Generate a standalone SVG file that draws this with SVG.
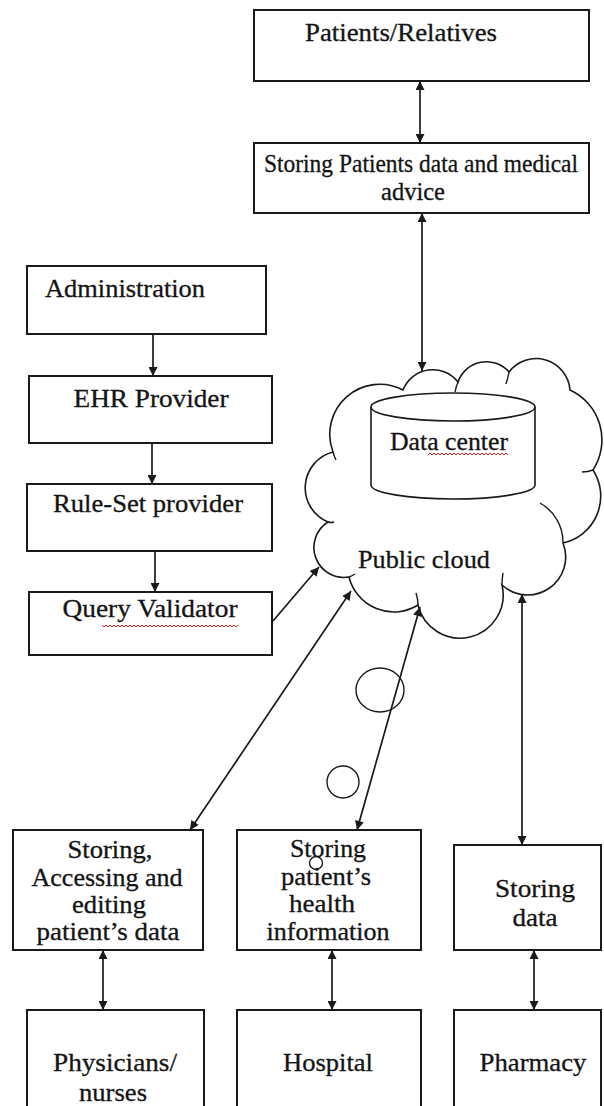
<svg xmlns="http://www.w3.org/2000/svg" width="604" height="1106" viewBox="0 0 604 1106">
  <style>
    .box { fill: #fff; stroke: #1a1a1a; stroke-width: 2; }
    .lbl { font-family: "Liberation Serif", "Times New Roman", serif; font-size: 25px; fill: #141414; stroke: #141414; stroke-width: 0.3; }
    .mid { text-anchor: middle; }
    .link { fill: none; stroke: #1a1a1a; stroke-width: 1.7; }
    .one { marker-end: url(#head); }
    .two { marker-start: url(#head); marker-end: url(#head); }
    .outline { fill: #fff; stroke: #1a1a1a; stroke-width: 1.6; }
    .thin { fill: none; stroke: #1a1a1a; stroke-width: 1.4; }
  </style>
  <defs>
    <marker id="head" viewBox="0 0 10 10" refX="10" refY="5" markerWidth="10" markerHeight="9" markerUnits="userSpaceOnUse" orient="auto-start-reverse">
      <path d="M0,0 L10,5 L0,10 z" fill="#1a1a1a"/>
    </marker>
    <pattern id="wavy" x="0" y="0" width="4" height="4" patternUnits="userSpaceOnUse">
      <path d="M0 3 L2 1 L4 3" fill="none" stroke="#d42020" stroke-width="1"/>
    </pattern>
  </defs>
  <rect width="604" height="1106" fill="#fff"/>

  <!-- cloud with data center -->
  <g id="public-cloud">
    <path class="outline" d="M403 390 A32 32 0 0 1 458 382 A30 30 0 0 1 509 372 A34 34 0 0 1 570 390 A55 55 0 0 1 593 470 A48 48 0 0 1 563 543 A38 38 0 0 1 502 585 A43 43 0 0 1 418 605 A46 46 0 0 1 349 577 A30 30 0 0 1 328 522 A37 37 0 0 1 333 452 A50 50 0 0 1 403 390 Z"/>
    <path class="thin" d="M540 503 A45 45 0 0 1 563 543 M458 382 Q456 387 455 392 M509 372 Q508 378 506 384 M593 470 Q588 472 582 472 M502 585 Q502 579 503 573 M418 605 Q418 599 416 593 M333 452 Q334 456 336 460 M328 522 Q331 523 334 522 M349 577 Q352 576 355 574"/>
    <text class="lbl mid" x="424" y="568" textLength="132" lengthAdjust="spacingAndGlyphs">Public cloud</text>
  </g>
  <g id="data-center">
    <path class="outline" d="M371 407 L371 485 A82 14 0 0 0 535 485 L535 407"/>
    <ellipse class="outline" cx="453" cy="407" rx="82" ry="14"/>
    <text class="lbl mid" x="449" y="450" textLength="118" lengthAdjust="spacingAndGlyphs">Data center</text>
    <rect x="428" y="452" width="80" height="4" fill="url(#wavy)"/>
  </g>

  <!-- top chain -->
  <g id="patients-relatives">
    <rect class="box" x="254" y="10" width="335" height="71"/>
    <text class="lbl mid" x="401" y="41" textLength="192" lengthAdjust="spacingAndGlyphs">Patients/Relatives</text>
  </g>
  <g id="storing-patients-data">
    <rect class="box" x="254" y="143" width="335" height="70"/>
    <text class="lbl mid" x="421" y="172" textLength="314" lengthAdjust="spacingAndGlyphs">Storing Patients data and medical</text>
    <text class="lbl mid" x="413" y="200" textLength="64" lengthAdjust="spacingAndGlyphs">advice</text>
  </g>

  <!-- left chain -->
  <g id="administration">
    <rect class="box" x="27" y="266" width="239" height="68"/>
    <text class="lbl" x="45" y="297" textLength="160" lengthAdjust="spacingAndGlyphs">Administration</text>
  </g>
  <g id="ehr-provider">
    <rect class="box" x="29" y="376" width="243" height="67"/>
    <text class="lbl mid" x="151" y="407" textLength="155" lengthAdjust="spacingAndGlyphs">EHR Provider</text>
  </g>
  <g id="rule-set-provider">
    <rect class="box" x="27" y="484" width="245" height="67"/>
    <text class="lbl mid" x="148" y="512" textLength="190" lengthAdjust="spacingAndGlyphs">Rule-Set provider</text>
  </g>
  <g id="query-validator">
    <rect class="box" x="29" y="592" width="243" height="63"/>
    <text class="lbl mid" x="150" y="617" textLength="175" lengthAdjust="spacingAndGlyphs">Query Validator</text>
    <rect x="102" y="624" width="136" height="4" fill="url(#wavy)"/>
  </g>

  <!-- storage boxes -->
  <g id="store-physicians">
    <rect class="box" x="13" y="830" width="190" height="120"/>
    <text class="lbl mid" x="110" y="858" textLength="85" lengthAdjust="spacingAndGlyphs">Storing,</text>
    <text class="lbl mid" x="107" y="886" textLength="151" lengthAdjust="spacingAndGlyphs">Accessing and</text>
    <text class="lbl mid" x="109" y="913" textLength="74" lengthAdjust="spacingAndGlyphs">editing</text>
    <text class="lbl mid" x="108" y="940" textLength="143" lengthAdjust="spacingAndGlyphs">patient’s data</text>
  </g>
  <g id="store-hospital">
    <rect class="box" x="237" y="830" width="184" height="120"/>
    <text class="lbl mid" x="328" y="857" textLength="76" lengthAdjust="spacingAndGlyphs">Storing</text>
    <circle class="thin" cx="316" cy="863" r="6.5"/>
    <text class="lbl mid" x="326" y="885" textLength="90" lengthAdjust="spacingAndGlyphs">patient’s</text>
    <text class="lbl mid" x="322" y="912" textLength="66" lengthAdjust="spacingAndGlyphs">health</text>
    <text class="lbl mid" x="328" y="940" textLength="123" lengthAdjust="spacingAndGlyphs">information</text>
  </g>
  <g id="store-pharmacy">
    <rect class="box" x="454" y="845" width="147" height="105"/>
    <text class="lbl mid" x="535" y="897" textLength="80" lengthAdjust="spacingAndGlyphs">Storing</text>
    <text class="lbl mid" x="535" y="926" textLength="45" lengthAdjust="spacingAndGlyphs">data</text>
  </g>

  <!-- bottom row -->
  <g id="physicians-nurses">
    <rect class="box" x="27" y="1010" width="177" height="120"/>
    <text class="lbl mid" x="115" y="1071" textLength="124" lengthAdjust="spacingAndGlyphs">Physicians/</text>
    <text class="lbl mid" x="113" y="1101" textLength="68" lengthAdjust="spacingAndGlyphs">nurses</text>
  </g>
  <g id="hospital">
    <rect class="box" x="237" y="1010" width="184" height="120"/>
    <text class="lbl mid" x="328" y="1071" textLength="90" lengthAdjust="spacingAndGlyphs">Hospital</text>
  </g>
  <g id="pharmacy">
    <rect class="box" x="454" y="1010" width="147" height="120"/>
    <text class="lbl mid" x="533" y="1071" textLength="107" lengthAdjust="spacingAndGlyphs">Pharmacy</text>
  </g>

  <!-- stray circles along the hospital link -->
  <g id="bubbles">
    <ellipse class="thin" cx="380" cy="690" rx="24" ry="22"/>
    <circle class="thin" cx="343" cy="782" r="16"/>
  </g>

  <!-- connectors -->
  <g id="connectors">
    <line class="link two" x1="420" y1="81" x2="420" y2="143"/>
    <line class="link two" x1="422" y1="213" x2="422" y2="371"/>
    <line class="link one" x1="153" y1="334" x2="153" y2="376"/>
    <line class="link one" x1="152" y1="443" x2="152" y2="484"/>
    <line class="link one" x1="155" y1="551" x2="155" y2="592"/>
    <line class="link one" x1="273" y1="621" x2="319" y2="567"/>
    <line class="link two" x1="190" y1="830" x2="351" y2="591"/>
    <line class="link two" x1="357" y1="830" x2="420" y2="607"/>
    <line class="link two" x1="522" y1="845" x2="522" y2="594"/>
    <line class="link two" x1="103" y1="950" x2="103" y2="1010"/>
    <line class="link two" x1="332" y1="950" x2="332" y2="1010"/>
    <line class="link two" x1="534" y1="950" x2="534" y2="1010"/>
  </g>
</svg>
